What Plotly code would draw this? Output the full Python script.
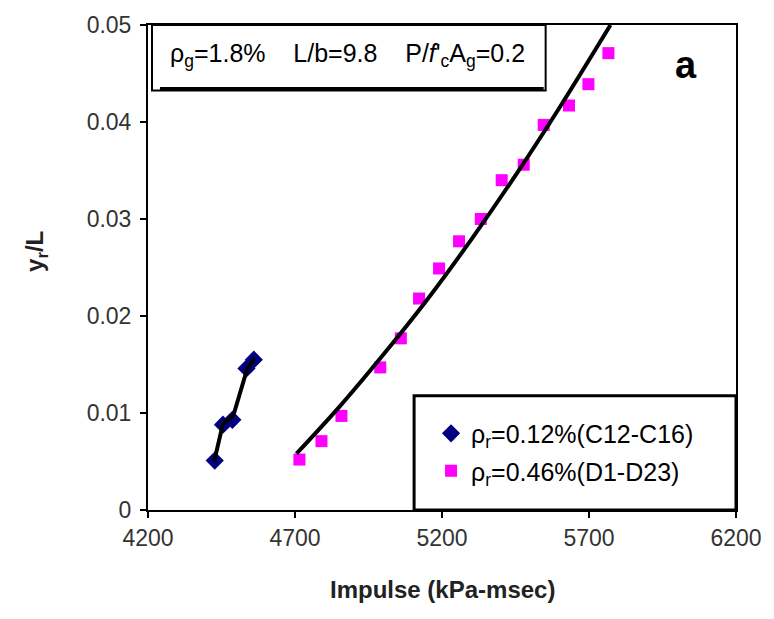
import plotly.graph_objects as go

# Series C12-C16 (rho_r = 0.12%)
c_impulse = [4427, 4455, 4487, 4535, 4560]
c_drift = [0.0051, 0.0088, 0.0093, 0.0146, 0.0155]
# trend line for C series
c_fit_x = [4425, 4455, 4490, 4535, 4562]
c_fit_y = [0.0050, 0.0089, 0.0097, 0.0143, 0.0157]

# Series D1-D23 (rho_r = 0.46%)
d_impulse = [4715, 4790, 4858, 4990, 5060, 5122, 5190, 5258, 5332, 5403,
             5478, 5546, 5632, 5698, 5766]
d_drift = [0.0052, 0.0071, 0.0097, 0.0147, 0.0177, 0.0218, 0.0249, 0.0277,
           0.0300, 0.0340, 0.0356, 0.0397, 0.0417, 0.0439, 0.0471]
# trend line for D series
d_fit_x = [4705, 4850, 5000, 5150, 5300, 5450, 5600, 5773]
d_fit_y = [0.0058, 0.0106, 0.0160, 0.0217, 0.0279, 0.0345, 0.0415, 0.0500]

x_ticks = [4200, 4700, 5200, 5700, 6200]
y_ticks = [0, 0.01, 0.02, 0.03, 0.04, 0.05]
y_tick_text = ["0", "0.01", "0.02", "0.03", "0.04", "0.05"]

W, H = 774, 619
L, R, T, B = 148, 738, 22, 510


def px(x):
    return (x - L) / (R - L)


def py(y):
    return (B - y) / (B - T)


tick_font = dict(family="Liberation Sans Narrow, Arial Narrow, Liberation Sans, Arial",
                 size=23, color="#333333")
text_font = "Liberation Sans, Arial"

fig = go.Figure()
fig.add_trace(go.Scatter(x=c_impulse, y=c_drift, mode="markers",
                         name="ρ<sub>r</sub>=0.12%(C12-C16)", legendgroup="c",
                         marker=dict(symbol="diamond", size=14, color="#000080")))
fig.add_trace(go.Scatter(x=d_impulse, y=d_drift, mode="markers",
                         name="ρ<sub>r</sub>=0.46%(D1-D23)", legendgroup="d",
                         marker=dict(symbol="square", size=12, color="#FF00FF")))
fig.add_trace(go.Scatter(x=c_fit_x, y=c_fit_y, mode="lines", showlegend=False,
                         line=dict(color="black", width=4)))
fig.add_trace(go.Scatter(x=d_fit_x, y=d_fit_y, mode="lines", showlegend=False,
                         line=dict(color="black", width=4, shape="spline")))

fig.update_layout(
    width=W, height=H,
    margin=dict(l=L, r=W - R, t=T, b=H - B, pad=0),
    paper_bgcolor="white", plot_bgcolor="white",
    showlegend=True,
    legend=dict(x=px(432), y=py(410), xanchor="left", yanchor="top",
                bgcolor="rgba(0,0,0,0)", borderwidth=0,
                font=dict(family=text_font, size=25, color="black"),
                itemsizing="trace", tracegroupgap=2),
    xaxis=dict(range=[4200, 6200], tickvals=x_ticks, ticks="outside", ticklen=6,
               tickwidth=2, tickcolor="black", showline=True, linecolor="black",
               linewidth=2, mirror=True, showgrid=False, zeroline=False,
               tickfont=tick_font, ticklabelstandoff=0),
    yaxis=dict(range=[0, 0.05], tickvals=y_ticks, ticktext=y_tick_text,
               ticks="outside", ticklen=6, tickwidth=2, tickcolor="black",
               showline=True, linecolor="black", linewidth=2, mirror=True,
               showgrid=False, zeroline=False, tickfont=tick_font,
               ticklabelstandoff=4),
    shapes=[
        # parameter box
        dict(type="rect", xref="paper", yref="paper", x0=px(152), x1=px(547),
             y0=py(88), y1=py(22), line=dict(color="black", width=2),
             fillcolor="white", layer="above"),
        dict(type="line", xref="paper", yref="paper", x0=px(160), x1=px(545),
             y0=py(86), y1=py(86), line=dict(color="black", width=3)),
        # legend box
        dict(type="rect", xref="paper", yref="paper", x0=px(415), x1=px(738),
             y0=py(510), y1=py(395), line=dict(color="black", width=3),
             fillcolor="white", layer="below"),
    ],
    annotations=[
        dict(text="ρ<sub>g</sub>=1.8%&nbsp;&nbsp;&nbsp; L/b=9.8&nbsp;&nbsp;&nbsp; P/<i>f</i>'<sub>c</sub>A<sub>g</sub>=0.2",
             xref="paper", yref="paper", x=px(348), y=py(52), showarrow=False,
             xanchor="center", yanchor="middle",
             font=dict(family=text_font, size=25, color="black")),
        dict(text="<b>a</b>", xref="paper", yref="paper", x=px(688), y=py(62),
             showarrow=False, xanchor="center", yanchor="middle",
             font=dict(family=text_font, size=38, color="black")),
        dict(text="<b>Impulse (kPa-msec)</b>", xref="paper", yref="paper",
             x=px(443), y=py(590), showarrow=False, xanchor="center",
             yanchor="middle", font=dict(family=text_font, size=24, color="#222222")),
        dict(text="<b>y<sub>r</sub>/L</b>", xref="paper", yref="paper",
             x=px(36), y=py(250), showarrow=False, xanchor="center",
             yanchor="middle", textangle=-90,
             font=dict(family=text_font, size=24, color="#222222")),
    ],
)

fig.write_html("out.html")
